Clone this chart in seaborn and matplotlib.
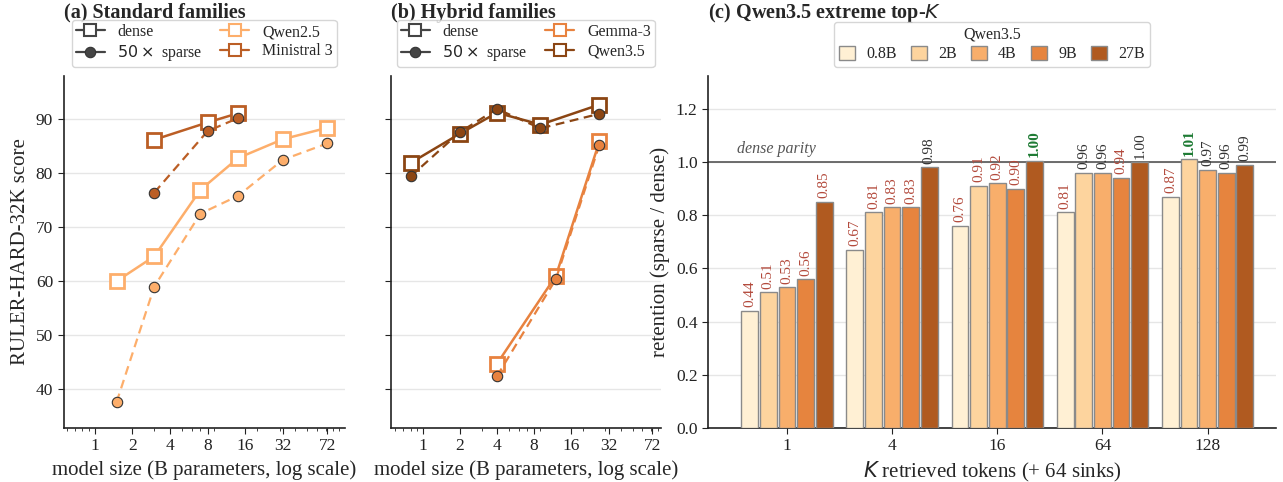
import numpy as np
import pandas as pd
import matplotlib
matplotlib.use("Agg")
import matplotlib.pyplot as plt
import seaborn as sns
from matplotlib.lines import Line2D
from matplotlib.ticker import NullFormatter, FixedLocator, FixedFormatter

# ---------------- data ----------------
qwen25_size = [1.5, 3, 7, 14, 32, 72]
qwen25_dense = [60.0, 64.6, 76.9, 82.8, 86.3, 88.4]
qwen25_sparse = [37.6, 59.0, 72.5, 75.8, 82.5, 85.5]
ministral_size = [3, 8, 14]
ministral_dense = [86.2, 89.4, 91.1]
ministral_sparse = [76.4, 87.8, 90.2]

gemma_size = [4, 12, 27]
gemma_dense = [44.7, 61.0, 85.9]
gemma_sparse = [42.4, 60.4, 85.3]
qwen35_size = [0.8, 2, 4, 9, 27]
qwen35_dense = [81.9, 87.3, 91.2, 89.0, 92.7]
qwen35_sparse = [79.4, 87.6, 91.9, 88.3, 91.0]

size_ticks = [1, 2, 4, 8, 16, 32, 72]

k_labels = ["1", "4", "16", "64", "128"]
bar_sizes = ["0.8B", "2B", "4B", "9B", "27B"]
ret_0p8b = [0.44, 0.67, 0.76, 0.81, 0.87]
ret_2b = [0.51, 0.81, 0.91, 0.96, 1.01]
ret_4b = [0.53, 0.83, 0.92, 0.96, 0.97]
ret_9b = [0.56, 0.83, 0.90, 0.94, 0.96]
ret_27b = [0.85, 0.98, 1.004, 0.998, 0.99]

# ---------------- style ----------------
sns.set_style("ticks")
plt.rcParams["font.family"] = ["Liberation Serif", "DejaVu Sans"]
plt.rcParams["mathtext.fontset"] = "dejavusans"
plt.rcParams["axes.edgecolor"] = "#222222"
plt.rcParams["axes.linewidth"] = 1.2
plt.rcParams["xtick.color"] = "#222222"
plt.rcParams["ytick.color"] = "#222222"

C_Q25 = "#fdae6b"
C_MIN = "#bb5e25"
C_GEM = "#e8823f"
C_Q35 = "#8b4513"
BAR_COLORS = ["#fff0d4", "#fdd49e", "#f8ae6b", "#e6843e", "#b05a20"]
GRID = "#e6e6e6"

W, H = 1283, 482
fig = plt.figure(figsize=(W / 100, H / 100), dpi=100)
bot = 1 - 428 / H
top = 1 - 76 / H
ax_a = fig.add_axes([63.5 / W, bot, (345 - 63.5) / W, top - bot])
ax_b = fig.add_axes([390.5 / W, bot, (661 - 390.5) / W, top - bot])
ax_c = fig.add_axes([708 / W, bot, (1276 - 708) / W, top - bot])


def draw_family(ax, xs, dense, sparse, color):
    sns.lineplot(x=xs, y=dense, ax=ax, color=color, lw=1.8, marker="s",
                 markersize=10.5, markerfacecolor="white", markeredgecolor=color,
                 markeredgewidth=2, sort=False, zorder=3)
    sns.lineplot(x=xs, y=sparse, ax=ax, color=color, lw=1.6, linestyle=(0, (4, 2.5)),
                 marker="o", markersize=7.5, markerfacecolor=color,
                 markeredgecolor="#333333", markeredgewidth=0.8, sort=False, zorder=4)


def style_size_axis(ax, xlim):
    ax.set_xscale("log")
    ax.set_xlim(*xlim)
    ax.set_ylim(32.8, 98)
    ax.xaxis.set_major_locator(FixedLocator(size_ticks))
    ax.xaxis.set_major_formatter(FixedFormatter([str(t) for t in size_ticks]))
    ax.xaxis.set_minor_formatter(NullFormatter())
    ax.set_yticks([40, 50, 60, 70, 80, 90])
    ax.yaxis.grid(True, color=GRID, lw=1)
    ax.set_axisbelow(True)
    ax.tick_params(axis="both", which="major", labelsize=12.5, length=4)
    ax.tick_params(axis="x", which="minor", length=2)
    ax.set_xlabel("model size (B parameters, log scale)", fontsize=15)
    sns.despine(ax=ax)


def family_legend(ax, names, colors):
    handles = [
        Line2D([], [], color="#444444", lw=1.6, marker="s", ms=8.5, mfc="white",
               mec="#444444", mew=1.5),
        Line2D([], [], color="#444444", lw=1.6, marker="o", ms=7.5, mfc="#444444",
               mec="#333333", mew=0.8),
    ]
    for c in colors:
        handles.append(Line2D([], [], color=c, lw=1.6, marker="s", ms=8.5, mfc="white",
                              mec=c, mew=1.5))
    labels = ["dense", r"$50\times$ sparse"] + names
    ax.legend(handles, labels, ncol=2, loc="lower center", bbox_to_anchor=(0.5, 1.025),
              fontsize=11.5, frameon=True, edgecolor="#cccccc", fancybox=True,
              handlelength=1.8, columnspacing=1.1, borderpad=0.25, labelspacing=0.2,
              handletextpad=0.8, borderaxespad=0)


# ---- panel (a)
draw_family(ax_a, qwen25_size, qwen25_dense, qwen25_sparse, C_Q25)
draw_family(ax_a, ministral_size, ministral_dense, ministral_sparse, C_MIN)
style_size_axis(ax_a, (0.565, 100))
ax_a.set_ylabel("RULER-HARD-32K score", fontsize=15)
family_legend(ax_a, ["Qwen2.5", "Ministral 3"], [C_Q25, C_MIN])
ax_a.set_title("(a) Standard families", loc="left", fontsize=14.5, fontweight="bold", pad=42)

# ---- panel (b)
draw_family(ax_b, qwen35_size, qwen35_dense, qwen35_sparse, C_Q35)
draw_family(ax_b, gemma_size, gemma_dense, gemma_sparse, C_GEM)
style_size_axis(ax_b, (0.55, 85))
ax_b.tick_params(axis="y", labelleft=False)
ax_b.set_ylabel("")
family_legend(ax_b, ["Gemma-3", "Qwen3.5"], [C_GEM, C_Q35])
ax_b.set_title("(b) Hybrid families", loc="left", fontsize=14.5, fontweight="bold", pad=42)

# ---- panel (c)
df = pd.DataFrame({
    "K": k_labels * 5,
    "size": np.repeat(bar_sizes, len(k_labels)),
    "ret": ret_0p8b + ret_2b + ret_4b + ret_9b + ret_27b,
})
sns.barplot(data=df, x="K", y="ret", hue="size", order=k_labels, hue_order=bar_sizes,
            palette=BAR_COLORS, saturation=1, width=0.885, gap=0.1, edgecolor="#8a8a8a",
            linewidth=1, errorbar=None, ax=ax_c, zorder=3)
ax_c.set_xlim(-0.75, 4.65)
ax_c.set_ylim(0, 1.323)
ax_c.set_yticks([0.0, 0.2, 0.4, 0.6, 0.8, 1.0, 1.2])
ax_c.yaxis.grid(True, color=GRID, lw=1)
ax_c.set_axisbelow(True)
ax_c.tick_params(axis="both", labelsize=12.5, length=4)
ax_c.axhline(1.0, color="#555555", lw=1.2, zorder=2)
ax_c.text(-0.47, 1.017, "dense parity", fontsize=11.5, style="italic", color="#555555",
          ha="left", va="bottom")
for cont in ax_c.containers:
    for bar in cont:
        v = bar.get_height()
        if v > 1.0:
            col, fw = "#1e7b34", "bold"
        elif v >= 0.95:
            col, fw = "#333333", "normal"
        else:
            col, fw = "#b34a3c", "normal"
        ax_c.annotate(f"{v:.2f}", (bar.get_x() + bar.get_width() / 2, v),
                      xytext=(0, 2.5), textcoords="offset points", rotation=90,
                      ha="center", va="bottom", fontsize=11, color=col, fontweight=fw)
ax_c.set_xlabel(r"$K$ retrieved tokens (+ 64 sinks)", fontsize=15)
ax_c.set_ylabel("retention (sparse / dense)", fontsize=15)
h, l = ax_c.get_legend_handles_labels()
ax_c.legend(h, l, title="Qwen3.5", ncol=5, loc="lower center", bbox_to_anchor=(0.5, 1.025),
            fontsize=11.5, title_fontsize=11.5, frameon=True, edgecolor="#cccccc",
            handlelength=1.0, handleheight=1.0, columnspacing=0.9, borderpad=0.3,
            handletextpad=0.7, labelspacing=0.2, borderaxespad=0)
ax_c.set_title(r"(c) Qwen3.5 extreme top-$K$", loc="left", fontsize=14.5,
               fontweight="bold", pad=42)
sns.despine(ax=ax_c)

fig.savefig("out.png", dpi=100)
